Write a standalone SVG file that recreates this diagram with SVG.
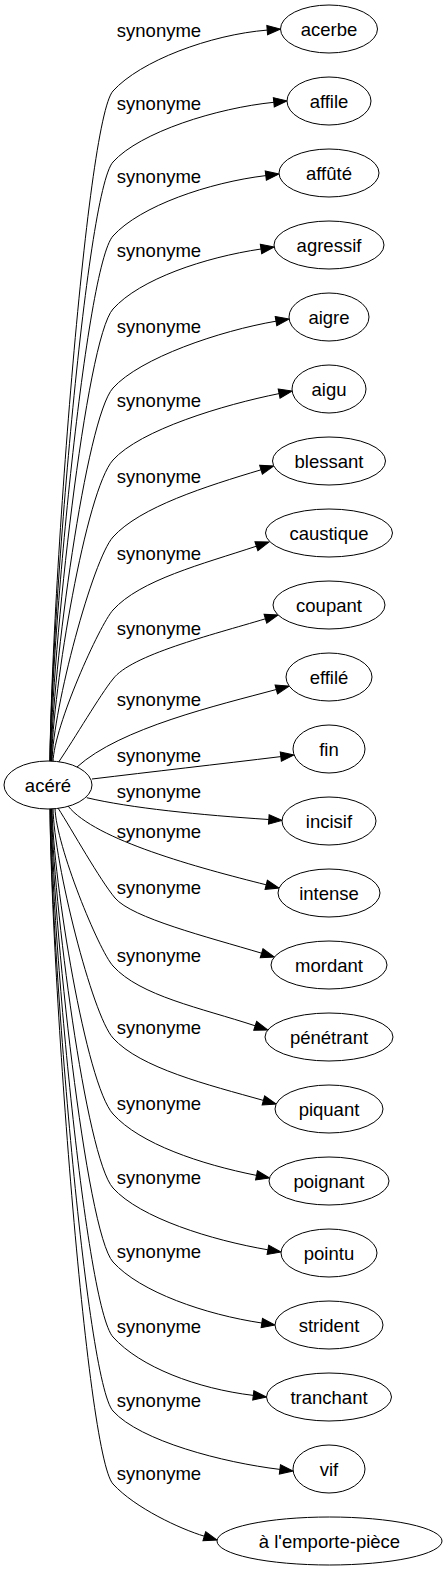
<svg xmlns="http://www.w3.org/2000/svg" width="447" height="1571" viewBox="0 0 447 1571">
<style>
text{font-family:"Liberation Sans",Arial,sans-serif;font-size:18.5px;fill:#000}
.n ellipse{fill:#fff;stroke:#000;stroke-width:1}
.n text{text-anchor:middle}
#edges path{fill:none;stroke:#000;stroke-width:1;marker-end:url(#a)}
#edges text{text-anchor:middle}
</style>
<defs>
<marker id="a" markerUnits="userSpaceOnUse" markerWidth="15" markerHeight="12" viewBox="0 -6 15 12" refX="0" refY="0" orient="auto" overflow="visible"><path d="M0,-4.7 L13.3,0 L0,4.7 Z" fill="#000" stroke="#000" stroke-width="1"/></marker>
</defs>
<rect width="447" height="1571" fill="#fff"/>
<g id="edges">
<path d="M50,762 C51,601 86,121 113,91 C140,61 210.4,34.6 267.2,30.1"/>
<text x="159" y="37">synonyme</text>
<path d="M50,762 C51,618 86,192 113,162 C140,132 217.1,108 273.8,102.3"/>
<text x="159" y="110">synonyme</text>
<path d="M50,762 C51,636 86,266 113,236 C140,206 209.2,182.4 265.8,175.6"/>
<text x="159" y="183">synonyme</text>
<path d="M50.5,762 C51.5,653 86,339 113,309 C140,279 204.6,257.4 261,249"/>
<text x="159" y="257">synonyme</text>
<path d="M51,762 C52,672 86,418 113,388 C140,358 219.8,330.8 276,321.2"/>
<text x="159" y="333">synonyme</text>
<path d="M51.5,762 C52.5,690 86,490 113,460 C140,430 223.2,404.8 279.1,393.6"/>
<text x="159" y="407">synonyme</text>
<path d="M52,762 C53,708 92.8,559.5 113,537 C140,507 206.4,486.2 261,469.8"/>
<text x="159" y="483">synonyme</text>
<path d="M53,762 C54,726 99.5,625 113,610 C140,580 202.3,564.1 256.4,546.2"/>
<text x="159" y="560">synonyme</text>
<path d="M58,763 C75,738 100,695 113,679 C131,655 210.8,635.2 265.4,618.8"/>
<text x="159" y="635">synonyme</text>
<path d="M77,767 C120,728 218.4,705.1 276.3,689.5"/>
<text x="159" y="706">synonyme</text>
<path d="M92,779 C150,772 220,764 280.8,756.6"/>
<text x="159" y="762">synonyme</text>
<path d="M86.7,797.7 C130,808 200,815 268.8,819.5"/>
<text x="159" y="798">synonyme</text>
<path d="M68,806 C95,840 198.3,867.8 266.2,884.8"/>
<text x="159" y="838">synonyme</text>
<path d="M58,808 C72,830 100,880 115,898 C132,918 207,936.8 261.6,953.2"/>
<text x="159" y="894">synonyme</text>
<path d="M55,808 C56,846 98.7,950.1 113,966 C140,996 201.1,1008 255.2,1025.8"/>
<text x="159" y="962">synonyme</text>
<path d="M53,808 C54,863 92.2,1014.9 113,1038 C140,1068 208.5,1085 263.4,1100.4"/>
<text x="159" y="1034">synonyme</text>
<path d="M52,808 C53,881 86,1084 113,1114 C140,1144 200.6,1164.2 256.5,1175.4"/>
<text x="159" y="1110">synonyme</text>
<path d="M51.5,808 C52.5,899 86,1158 113,1188 C140,1218 211.7,1240.2 267.9,1249.8"/>
<text x="159" y="1184">synonyme</text>
<path d="M51,808 C52,917 86,1232 113,1262 C140,1292 205.4,1314.6 261.8,1323"/>
<text x="159" y="1258">synonyme</text>
<path d="M50.5,808 C51.5,935 86,1307 113,1337 C140,1367 196.7,1388.6 253.3,1395.4"/>
<text x="159" y="1333">synonyme</text>
<path d="M50,808 C51,953 86,1381 113,1411 C140,1441 223.3,1462.6 279.9,1469.4"/>
<text x="159" y="1407">synonyme</text>
<path d="M50,808 C51,970 86,1454 113,1484 C135,1508 180.3,1529 204.3,1536.2"/>
<text x="159" y="1480">synonyme</text>
</g>
<g id="n-acere" class="n"><ellipse cx="48" cy="785" rx="44" ry="24"/><text x="48" y="791.5">acéré</text></g>
<g id="n-acerbe" class="n"><ellipse cx="329" cy="29" rx="48.5" ry="24"/><text x="329" y="35.5">acerbe</text></g>
<g id="n-affile" class="n"><ellipse cx="329" cy="101" rx="42" ry="24"/><text x="329" y="107.5">affile</text></g>
<g id="n-affute" class="n"><ellipse cx="329" cy="173" rx="50" ry="24"/><text x="329" y="179.5">affûté</text></g>
<g id="n-agressif" class="n"><ellipse cx="329" cy="245" rx="55" ry="24"/><text x="329" y="251.5">agressif</text></g>
<g id="n-aigre" class="n"><ellipse cx="329" cy="317" rx="40" ry="24"/><text x="329" y="323.5">aigre</text></g>
<g id="n-aigu" class="n"><ellipse cx="329" cy="389" rx="37" ry="24"/><text x="329" y="395.5">aigu</text></g>
<g id="n-blessant" class="n"><ellipse cx="329" cy="461" rx="56.5" ry="24"/><text x="329" y="467.5">blessant</text></g>
<g id="n-caustique" class="n"><ellipse cx="329" cy="533" rx="63.5" ry="24"/><text x="329" y="539.5">caustique</text></g>
<g id="n-coupant" class="n"><ellipse cx="329" cy="605" rx="56" ry="24"/><text x="329" y="611.5">coupant</text></g>
<g id="n-effile" class="n"><ellipse cx="329" cy="677" rx="43" ry="24"/><text x="329" y="683.5">effilé</text></g>
<g id="n-fin" class="n"><ellipse cx="329" cy="749" rx="36" ry="24"/><text x="329" y="755.5">fin</text></g>
<g id="n-incisif" class="n"><ellipse cx="329" cy="821" rx="47" ry="24"/><text x="329" y="827.5">incisif</text></g>
<g id="n-intense" class="n"><ellipse cx="329" cy="893" rx="51" ry="24"/><text x="329" y="899.5">intense</text></g>
<g id="n-mordant" class="n"><ellipse cx="329" cy="965" rx="58" ry="24"/><text x="329" y="971.5">mordant</text></g>
<g id="n-penetrant" class="n"><ellipse cx="329" cy="1037" rx="64" ry="24"/><text x="329" y="1043.5">pénétrant</text></g>
<g id="n-piquant" class="n"><ellipse cx="329" cy="1109" rx="54" ry="24"/><text x="329" y="1115.5">piquant</text></g>
<g id="n-poignant" class="n"><ellipse cx="329" cy="1181" rx="60" ry="24"/><text x="329" y="1187.5">poignant</text></g>
<g id="n-pointu" class="n"><ellipse cx="329" cy="1253" rx="48" ry="24"/><text x="329" y="1259.5">pointu</text></g>
<g id="n-strident" class="n"><ellipse cx="329" cy="1325" rx="54" ry="24"/><text x="329" y="1331.5">strident</text></g>
<g id="n-tranchant" class="n"><ellipse cx="329" cy="1397" rx="62.5" ry="24"/><text x="329" y="1403.5">tranchant</text></g>
<g id="n-vif" class="n"><ellipse cx="329" cy="1469" rx="36" ry="24"/><text x="329" y="1475.5">vif</text></g>
<g id="n-emporte-piece" class="n"><ellipse cx="329.5" cy="1541" rx="112.5" ry="24"/><text x="329.5" y="1547.5">à l'emporte-pièce</text></g>
</svg>
